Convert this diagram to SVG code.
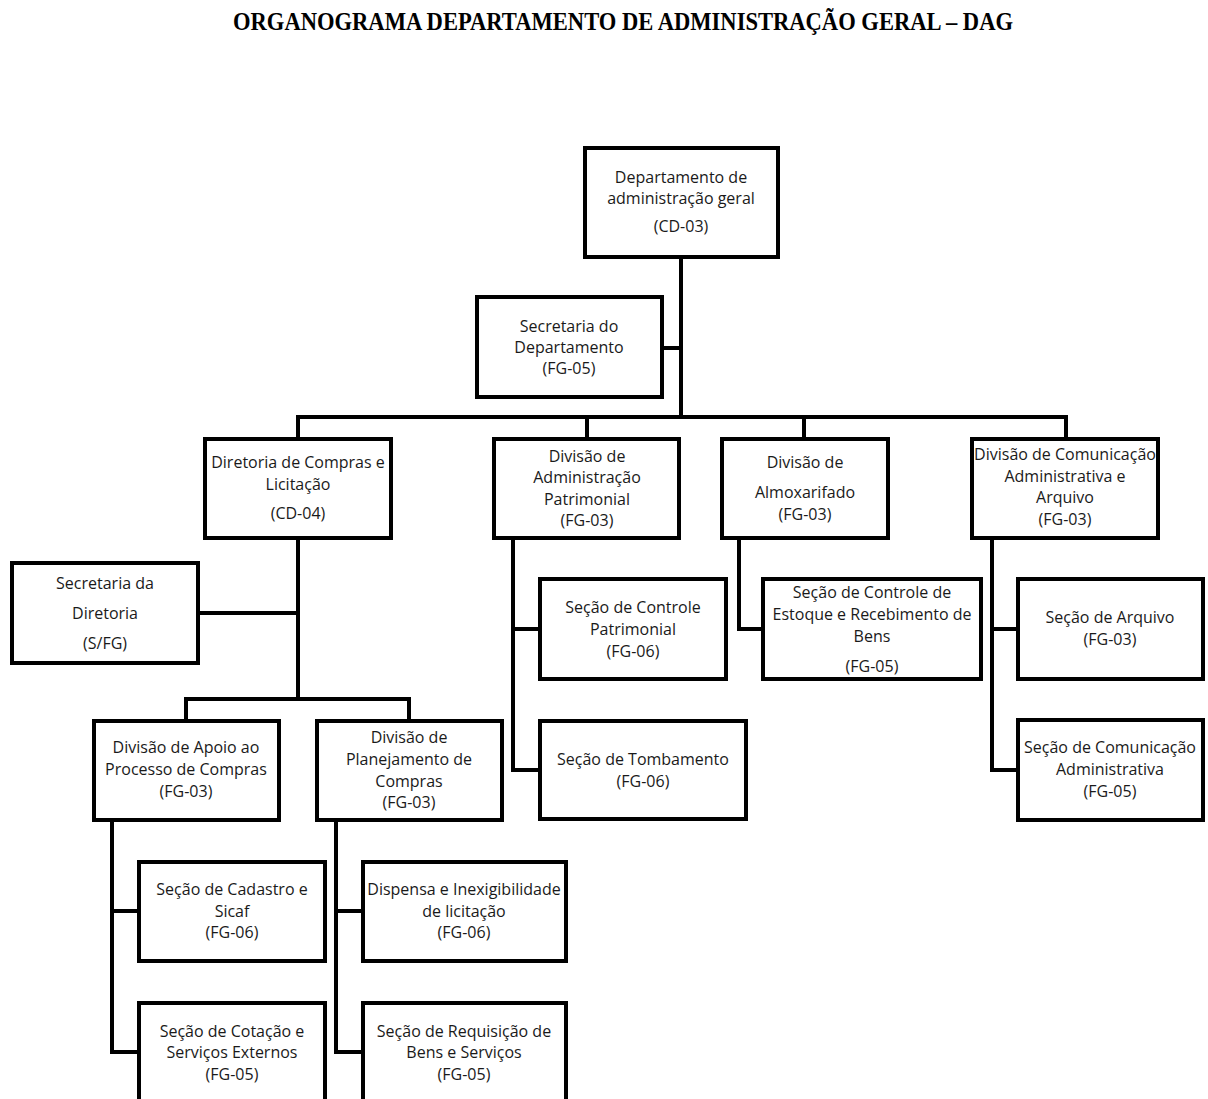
<svg xmlns="http://www.w3.org/2000/svg" width="1208" height="1099" viewBox="0 0 1208 1099">
<style>
.b{fill:#fff;stroke:#000;stroke-width:4}
.t{font-family:"Open Sans","Noto Sans",sans-serif;font-size:16px;fill:#1a1a1a;text-anchor:middle}
.c{fill:none;stroke:#000;stroke-width:4;stroke-linejoin:miter;stroke-linecap:square}
.h{font-family:"Liberation Serif","Times New Roman",serif;font-size:25px;font-weight:bold;fill:#000;text-anchor:middle}
</style>
<rect width="1208" height="1099" fill="#fff"/>
<text class="h" x="623" y="30" textLength="780" lengthAdjust="spacingAndGlyphs">ORGANOGRAMA DEPARTAMENTO DE ADMINISTRAÇÃO GERAL – DAG</text>
<g id="connectors">
<path class="c" d="M681 257V417M662 348H681M298 417H1066M298 417V439M587 417V439M804 417V439M1066 417V439"/>
<path class="c" d="M298 538V699M198 613H298M186 721V699H409V721"/>
<path class="c" d="M513 538V770H540M513 629H540"/>
<path class="c" d="M739 538V629H763"/>
<path class="c" d="M992 538V770H1018M992 629H1018"/>
<path class="c" d="M112 820V1052H139M112 911H139"/>
<path class="c" d="M336 820V1052H363M336 911H363"/>
</g>
<g id="n-dag"><rect class="b" x="585" y="148" width="193" height="109"/>
<text class="t" x="681" y="183">Departamento de</text><text class="t" x="681" y="204">administração geral</text><text class="t" x="681" y="232">(CD-03)</text></g>
<g id="n-secdep"><rect class="b" x="477" y="297" width="185" height="100"/>
<text class="t" x="569" y="332">Secretaria do</text><text class="t" x="569" y="353">Departamento</text><text class="t" x="569" y="374">(FG-05)</text></g>
<g id="n-dircomp"><rect class="b" x="205" y="439" width="186" height="99"/>
<text class="t" x="298" y="468">Diretoria de Compras e</text><text class="t" x="298" y="490">Licitação</text><text class="t" x="298" y="519">(CD-04)</text></g>
<g id="n-divpat"><rect class="b" x="494" y="439" width="185" height="99"/>
<text class="t" x="587" y="462">Divisão de</text><text class="t" x="587" y="483">Administração</text><text class="t" x="587" y="505">Patrimonial</text><text class="t" x="587" y="526">(FG-03)</text></g>
<g id="n-divalm"><rect class="b" x="722" y="439" width="166" height="99"/>
<text class="t" x="805" y="468">Divisão de</text><text class="t" x="805" y="498">Almoxarifado</text><text class="t" x="805" y="520">(FG-03)</text></g>
<g id="n-divcom"><rect class="b" x="972" y="439" width="186" height="99"/>
<text class="t" x="1065" y="460">Divisão de Comunicação</text><text class="t" x="1065" y="482">Administrativa e</text><text class="t" x="1065" y="503">Arquivo</text><text class="t" x="1065" y="525">(FG-03)</text></g>
<g id="n-secdir"><rect class="b" x="12" y="563" width="186" height="100"/>
<text class="t" x="105" y="589">Secretaria da</text><text class="t" x="105" y="619">Diretoria</text><text class="t" x="105" y="649">(S/FG)</text></g>
<g id="n-ctrlpat"><rect class="b" x="540" y="579" width="186" height="100"/>
<text class="t" x="633" y="613">Seção de Controle</text><text class="t" x="633" y="635">Patrimonial</text><text class="t" x="633" y="657">(FG-06)</text></g>
<g id="n-estoque"><rect class="b" x="763" y="579" width="218" height="100"/>
<text class="t" x="872" y="598">Seção de Controle de</text><text class="t" x="872" y="620">Estoque e Recebimento de</text><text class="t" x="872" y="642">Bens</text><text class="t" x="872" y="672">(FG-05)</text></g>
<g id="n-arquivo"><rect class="b" x="1018" y="579" width="185" height="100"/>
<text class="t" x="1110" y="623">Seção de Arquivo</text><text class="t" x="1110" y="645">(FG-03)</text></g>
<g id="n-apoio"><rect class="b" x="94" y="721" width="185" height="99"/>
<text class="t" x="186" y="753">Divisão de Apoio ao</text><text class="t" x="186" y="775">Processo de Compras</text><text class="t" x="186" y="797">(FG-03)</text></g>
<g id="n-planej"><rect class="b" x="317" y="721" width="185" height="99"/>
<text class="t" x="409" y="743">Divisão de</text><text class="t" x="409" y="765">Planejamento de</text><text class="t" x="409" y="787">Compras</text><text class="t" x="409" y="808">(FG-03)</text></g>
<g id="n-tomb"><rect class="b" x="540" y="721" width="206" height="98"/>
<text class="t" x="643" y="765">Seção de Tombamento</text><text class="t" x="643" y="787">(FG-06)</text></g>
<g id="n-comadm"><rect class="b" x="1018" y="720" width="185" height="100"/>
<text class="t" x="1110" y="753">Seção de Comunicação</text><text class="t" x="1110" y="775">Administrativa</text><text class="t" x="1110" y="797">(FG-05)</text></g>
<g id="n-cadastro"><rect class="b" x="139" y="862" width="186" height="99"/>
<text class="t" x="232" y="895">Seção de Cadastro e</text><text class="t" x="232" y="917">Sicaf</text><text class="t" x="232" y="938">(FG-06)</text></g>
<g id="n-dispensa"><rect class="b" x="363" y="862" width="203" height="99"/>
<text class="t" x="464" y="895">Dispensa e Inexigibilidade</text><text class="t" x="464" y="917">de licitação</text><text class="t" x="464" y="938">(FG-06)</text></g>
<g id="n-cotacao"><rect class="b" x="139" y="1003" width="186" height="110"/>
<text class="t" x="232" y="1037">Seção de Cotação e</text><text class="t" x="232" y="1058">Serviços Externos</text><text class="t" x="232" y="1080">(FG-05)</text></g>
<g id="n-requis"><rect class="b" x="363" y="1003" width="203" height="110"/>
<text class="t" x="464" y="1037">Seção de Requisição de</text><text class="t" x="464" y="1058">Bens e Serviços</text><text class="t" x="464" y="1080">(FG-05)</text></g>
</svg>
